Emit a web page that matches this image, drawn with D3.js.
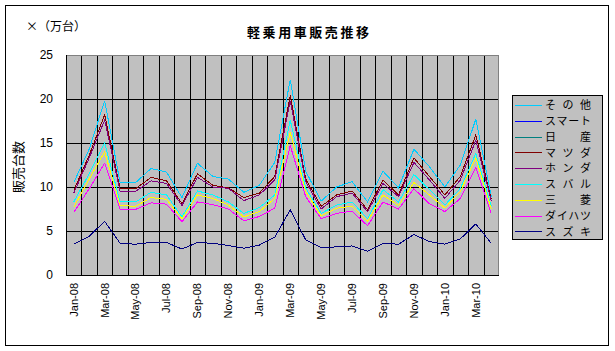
<!DOCTYPE html>
<html><head><meta charset="utf-8">
<script src="https://cdn.jsdelivr.net/npm/d3@7"></script>
<style>
html,body{margin:0;padding:0;background:#fff;}
text{font-family:"Noto Sans CJK JP","DejaVu Sans",sans-serif;}
</style></head>
<body><svg id="c" width="615" height="351"></svg>
<script>
const months = ["Jan-08","Feb-08","Mar-08","Apr-08","May-08","Jun-08","Jul-08","Aug-08","Sep-08","Oct-08","Nov-08","Dec-08",
"Jan-09","Feb-09","Mar-09","Apr-09","May-09","Jun-09","Jul-09","Aug-09","Sep-09","Oct-09","Nov-09","Dec-09",
"Jan-10","Feb-10","Mar-10","Apr-10"];
const tickLabels = months.filter((m,i)=>i%2===0);
const yTicks = [0,5,10,15,20,25];

const sonota  = [10.5,14.3,19.8,10.5,10.5,12.1,11.7,8.8,12.7,11.2,10.9,9.4,10.2,12.8,22.2,11.8,8.4,10.0,10.6,8.3,11.8,9.9,14.3,12.3,10.0,12.5,17.7,8.9];
const smart   = [9.6,13.6,18.2,9.8,9.8,11.1,10.7,8.1,11.5,10.2,9.9,8.8,9.3,11.2,20.4,10.9,7.8,9.1,9.55,7.4,10.8,9.1,13.3,11.2,9.1,11.2,15.9,8.6];
const nissan  = [9.6,13.6,18.2,9.8,9.8,11.1,10.7,8.1,11.5,10.2,9.9,8.8,9.3,11.2,20.4,10.9,7.8,9.1,9.55,7.4,10.8,9.1,13.3,11.2,9.1,11.2,15.9,8.6];
const mazda   = [9.6,13.6,18.2,9.8,9.8,11.1,10.7,8.1,11.5,10.2,9.9,8.8,9.3,11.2,20.4,10.9,7.8,9.1,9.55,7.4,10.8,9.1,13.3,11.2,9.1,11.2,15.9,8.6];
const honda   = [9.3,13.3,17.6,9.5,9.5,10.7,10.4,7.9,11.1,10.0,9.85,8.45,9.1,10.8,19.8,10.6,7.5,8.9,9.3,7.2,10.4,8.9,12.8,10.8,8.7,10.8,15.3,8.4];
const subaru  = [8.3,11.5,15.0,8.3,8.3,9.4,9.1,6.6,9.55,9.1,8.3,7.0,7.65,9.1,17.6,9.9,7.0,7.95,8.3,6.4,9.7,8.3,11.4,9.7,7.95,9.85,13.8,7.8];
const mitsubishi = [7.7,10.9,14.0,7.9,7.8,8.8,8.6,6.4,9.1,8.7,7.95,6.6,7.2,8.7,16.2,9.5,6.7,7.6,7.8,6.1,9.1,7.9,10.5,9.1,7.6,9.5,13.3,7.5];
const daihatsu = [7.1,9.8,12.7,7.5,7.45,8.2,8.05,6.05,8.3,8.0,7.5,6.15,6.65,7.6,14.7,8.9,6.4,7.0,7.25,5.6,8.3,7.5,9.8,8.1,7.2,8.7,12.2,7.0];
const suzuki  = [3.5,4.4,6.1,3.6,3.5,3.7,3.7,2.95,3.7,3.6,3.35,3.05,3.4,4.3,7.4,4.0,3.1,3.2,3.3,2.7,3.6,3.5,4.6,3.8,3.5,4.1,5.8,3.6];

const seriesNames = ["その他","スマート","日産","マツダ","ホンダ","スバル","三菱","ダイハツ","スズキ"];
const seriesValues = [sonota,smart,nissan,mazda,honda,subaru,mitsubishi,daihatsu,suzuki];
const seriesColors = ["#00ccff","#0000ff","#008080","#800000","#800080","#00ffff","#ffff00","#ff00ff","#000080"];

const svg = d3.select("#c");
const W=615,H=351;
svg.append("rect").attr("x",0).attr("y",0).attr("width",W).attr("height",H).attr("fill","#fff");
svg.append("rect").attr("x",5.5).attr("y",5.5).attr("width",603).attr("height",340)
  .attr("fill","#fff").attr("stroke","#000").attr("stroke-width",1);

const L=66,R=499,T=55,B=275;
const x = d3.scaleBand().domain(months).range([L,R]).padding(0);
const y = d3.scaleLinear().domain([0,25]).range([B,T]);
const cx = m => x(m)+x.bandwidth()/2;

// plot area
svg.append("rect").attr("x",L).attr("y",T).attr("width",R-L).attr("height",B-T).attr("fill","#c0c0c0");

// vertical gridlines (category boundaries)
svg.append("g").selectAll("line").data(months.slice(1)).join("line")
  .attr("x1",d=>Math.round(x(d))+0.5).attr("x2",d=>Math.round(x(d))+0.5)
  .attr("y1",T).attr("y2",B).attr("stroke","#000").attr("stroke-width",1);
// horizontal gridlines
svg.append("g").selectAll("line").data(yTicks.filter(v=>v>0&&v<25)).join("line")
  .attr("x1",L).attr("x2",R).attr("y1",d=>Math.round(y(d))+0.5).attr("y2",d=>Math.round(y(d))+0.5)
  .attr("stroke","#000").attr("stroke-width",1);
// plot border
svg.append("line").attr("x1",L).attr("x2",R).attr("y1",T+0.5).attr("y2",T+0.5).attr("stroke","#808080");
svg.append("line").attr("x1",R-0.5).attr("x2",R-0.5).attr("y1",T).attr("y2",B).attr("stroke","#808080");
svg.append("line").attr("x1",L+0.5).attr("x2",L+0.5).attr("y1",T).attr("y2",B+1).attr("stroke","#000");
svg.append("line").attr("x1",L).attr("x2",R).attr("y1",B+0.5).attr("y2",B+0.5).attr("stroke","#000");

// lines
const line = d3.line().x((d,i)=>cx(months[i])).y(d=>y(d));
svg.append("g").selectAll("path").data(seriesValues).join("path")
  .attr("d",d=>line(d)).attr("fill","none")
  .attr("stroke",(d,i)=>seriesColors[i]).attr("stroke-width",1)
  .attr("shape-rendering","crispEdges");

// y axis
const ya = svg.append("g").attr("transform",`translate(${L},0)`)
  .call(d3.axisLeft(y).tickValues(yTicks).tickSize(0).tickPadding(13));
ya.select(".domain").remove();
ya.selectAll("text").attr("font-size","12px").attr("fill","#000")
  .style("font-family","'Liberation Sans','DejaVu Sans',sans-serif");

// x axis
const xa = svg.append("g").attr("transform",`translate(0,${B})`)
  .call(d3.axisBottom(x).tickValues(tickLabels).tickSize(0));
xa.select(".domain").remove();
xa.selectAll("text").attr("font-size","11px").attr("fill","#000")
  .style("font-family","'Liberation Sans','DejaVu Sans',sans-serif")
  .attr("text-anchor","end").attr("transform","rotate(-90)")
  .attr("x",-8).attr("y",0).attr("dy","0.35em");

// titles
svg.append("text").attr("x",308).attr("y",37).attr("text-anchor","middle")
  .attr("font-size","13px").attr("font-weight","bold").attr("textLength",122).attr("lengthAdjust","spacing")
  .text("軽乗用車販売推移");
svg.append("text").attr("x",26).attr("y",31).attr("font-size","12px").text("×（万台）");
svg.append("text").attr("transform","translate(23,167) rotate(-90)").attr("text-anchor","middle")
  .attr("font-size","13px").text("販売台数");

// legend
const lg = svg.append("g");
lg.append("rect").attr("x",512.5).attr("y",95.5).attr("width",90).attr("height",144)
  .attr("fill","#c0c0c0").attr("stroke","#000");
seriesNames.forEach((n,i)=>{
  const yy = 105 + i*15.8;
  lg.append("rect").attr("x",515).attr("y",Math.round(yy)).attr("width",27).attr("height",1)
    .attr("fill",seriesColors[i]);
  lg.append("text").attr("x",545).attr("y",yy).attr("dy","0.38em").attr("font-size","11px")
    .attr("textLength",46).attr("lengthAdjust","spacing").text(n);
});
</script></body></html>
